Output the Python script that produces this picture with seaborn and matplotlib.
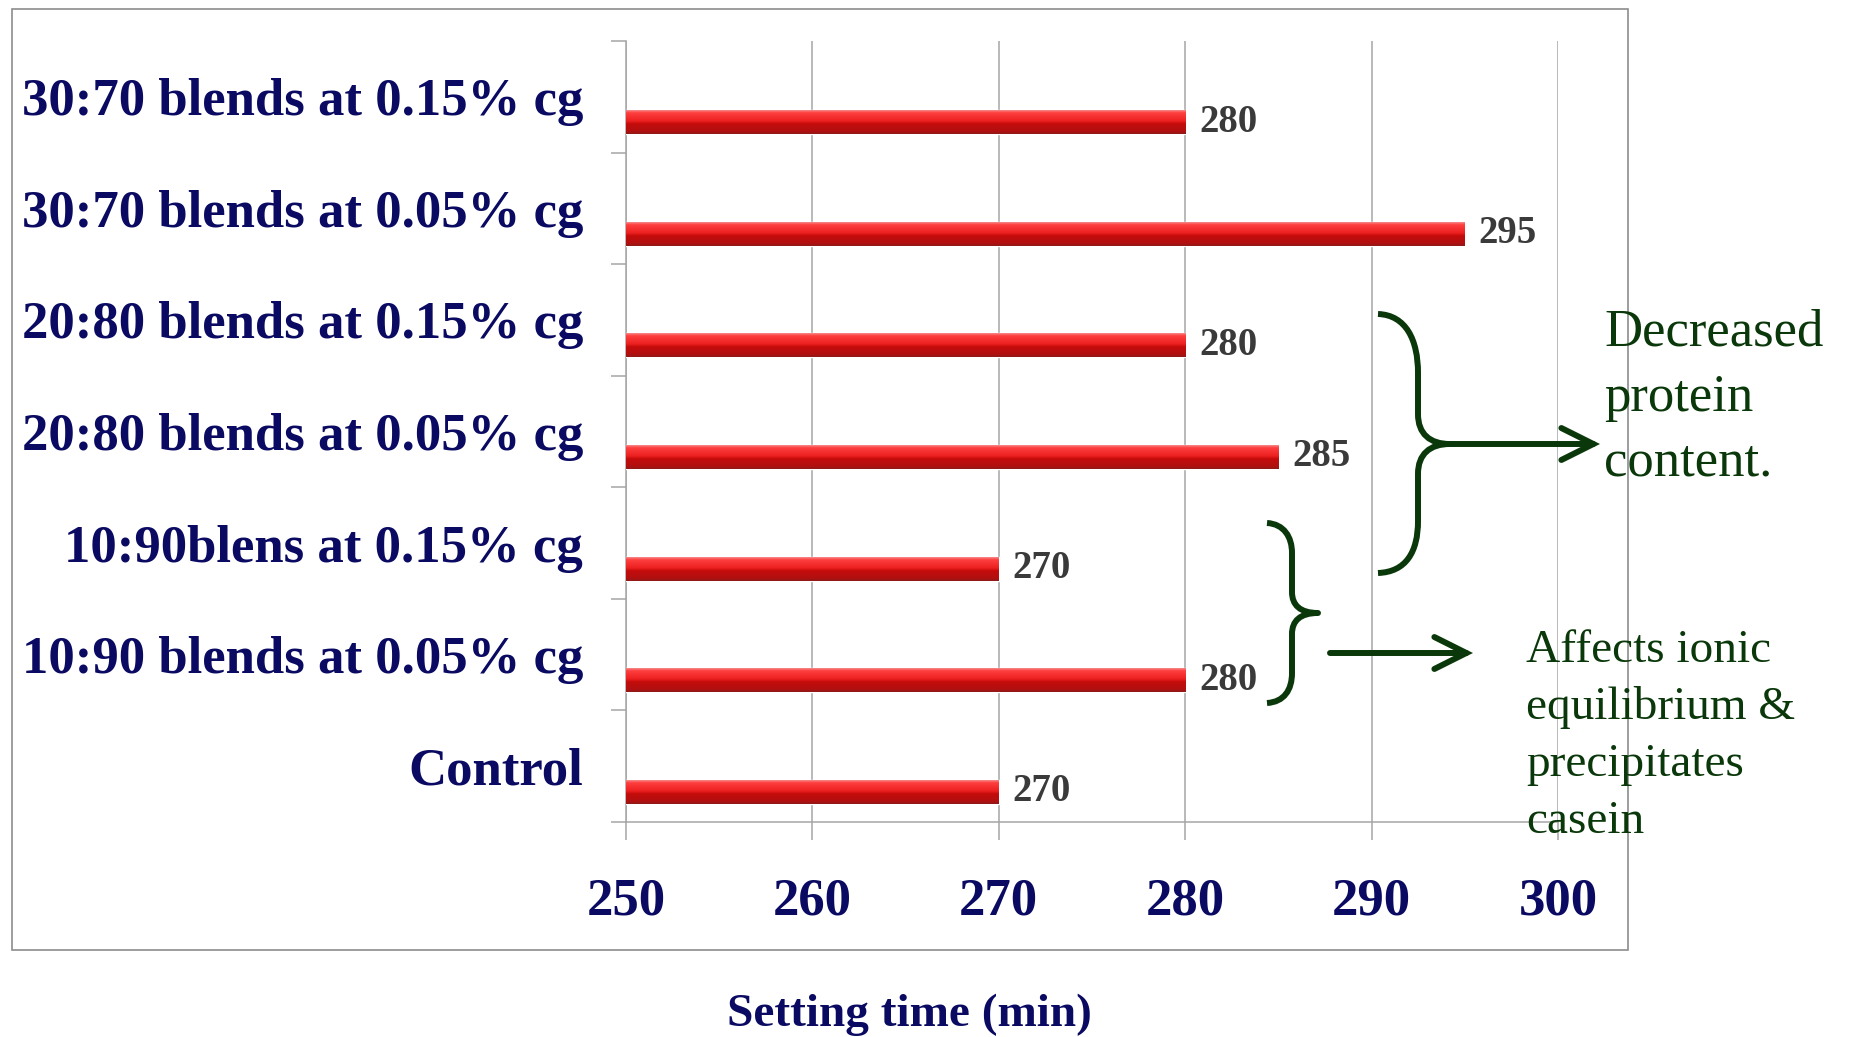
import numpy as np
import pandas as pd
import matplotlib
matplotlib.use("Agg")
import matplotlib.pyplot as plt
import seaborn as sns
from matplotlib.path import Path
from matplotlib.patches import PathPatch, Rectangle, FancyArrowPatch, ArrowStyle
from matplotlib.ticker import FixedLocator, NullFormatter, FixedFormatter
from matplotlib.colors import LinearSegmentedColormap

# ---------------- data ----------------
categories = [
    "30:70 blends at 0.15% cg",
    "30:70 blends at 0.05% cg",
    "20:80 blends at 0.15% cg",
    "20:80 blends at 0.05% cg",
    "10:90blens at 0.15% cg",
    "10:90 blends at 0.05% cg",
    "Control",
]
setting_time = [280, 295, 280, 285, 270, 280, 270]
x_ticks = [250, 260, 270, 280, 290, 300]
x_label = "Setting time (min)"
note_protein = ["Decreased", "protein", "content."]
note_ionic = ["Affects ionic", "equilibrium &", "precipitates", "casein"]

# ---------------- style ----------------
sns.set_style("white")
plt.rcParams["font.family"] = ["Liberation Serif", "DejaVu Serif"]

NAVY = "#0a0a62"
GREEN = "#0a380a"
GRID = "#a6a6a6"

W, H = 1850, 1037
fig = plt.figure(figsize=(W / 100, H / 100), dpi=100)


def fx(px):
    return px / W


def fy(py):
    return 1 - py / H


ax = fig.add_axes([fx(626), fy(822), fx(1558) - fx(626), fy(41) - fy(822)])

df = pd.DataFrame({"category": categories, "time": setting_time})
sns.barplot(data=df, x="time", y="category", orient="h", width=0.215,
            color="#d01515", saturation=1, ax=ax, zorder=3)

# category slots: labels centred in slot, bars sit lower in slot
OFF = 0.228
n = len(categories)
ax.set_ylim(n - 1 - OFF + 0.5, -OFF - 0.5)
bounds = [i - OFF - 0.5 for i in range(n + 1)]
centers = [i - OFF for i in range(n)]
ax.yaxis.set_major_locator(FixedLocator(bounds))
ax.yaxis.set_major_formatter(NullFormatter())
ax.yaxis.set_minor_locator(FixedLocator(centers))
ax.yaxis.set_minor_formatter(FixedFormatter(categories))
ax.tick_params(axis="y", which="major", left=True, length=11, width=1.1,
               color=GRID, direction="out")
ax.tick_params(axis="y", which="minor", left=True, length=0, pad=31,
               labelsize=38, labelcolor=NAVY)
for lbl in ax.get_yticklabels(minor=True):
    lbl.set_fontweight("bold")
ax.set_ylabel("")

ax.set_xlim(x_ticks[0], x_ticks[-1])
ax.set_xticks(x_ticks)
ax.tick_params(axis="x", bottom=True, length=13, width=1.1, color=GRID, direction="out",
               pad=27, labelsize=38, labelcolor=NAVY)
for lbl in ax.get_xticklabels():
    lbl.set_fontweight("bold")

ax.xaxis.grid(True, color=GRID, lw=1.1)
ax.yaxis.grid(False)
ax.set_axisbelow(True)
for s in ["top", "right"]:
    ax.spines[s].set_visible(False)
for s in ["left", "bottom"]:
    ax.spines[s].set_color(GRID)
    ax.spines[s].set_linewidth(1.1)

# glossy gradient on bars
cmap = LinearSegmentedColormap.from_list(
    "bar", [(0, "#f58a8a"), (0.1, "#ff4040"), (0.45, "#ec2020"),
            (0.58, "#c40b0b"), (0.9, "#b01010"), (1, "#8e1a1a")])
grad = np.linspace(0, 1, 64).reshape(-1, 1)
bars = list(ax.containers[0])
for p in bars:
    p.set_clip_box(ax.bbox)
    x0, y0 = p.get_x(), p.get_y()
    w, h = p.get_width(), p.get_height()
    im = ax.imshow(grad, cmap=cmap, aspect="auto", origin="upper",
                   extent=(x0, x0 + w, y0 + h, y0), zorder=4, interpolation="bilinear")
    im.set_clip_path(p)
    im.set_clip_box(ax.bbox)
ax.set_xlim(x_ticks[0], x_ticks[-1])
ax.set_ylim(n - 1 - OFF + 0.5, -OFF - 0.5)

ax.bar_label(ax.containers[0], padding=10, fontsize=28, fontweight="bold", color="#3a3a3a")

# x label
ax.set_xlabel(x_label, fontsize=34, fontweight="bold", color=NAVY)
ax.xaxis.set_label_coords(fx(909), fy(1026), transform=fig.transFigure)
ax.xaxis.label.set_va("baseline")

# outer frame
fig.add_artist(Rectangle((fx(12), fy(950)), fx(1628) - fx(12), fy(9) - fy(950),
                         transform=fig.transFigure, fill=False, edgecolor="#8c8c8c", lw=1.2))


# braces
def brace_path(pts):
    verts = [(fx(x), fy(y)) for x, y in pts]
    codes = [Path.MOVETO] + [Path.CURVE4] * 3 + [Path.LINETO] + [Path.CURVE4] * 6 + \
            [Path.LINETO] + [Path.CURVE4] * 3
    return Path(verts, codes)


big = [(1378, 314), (1406, 315), (1418, 340), (1418, 373), (1418, 414),
       (1418, 434), (1430, 444), (1450, 444),
       (1430, 444), (1418, 454), (1418, 474), (1418, 521),
       (1418, 552), (1406, 572), (1378, 573)]
small = [(1267, 523), (1284, 524), (1292, 537), (1292, 553), (1292, 592),
         (1292, 605), (1300, 613), (1318, 613),
         (1300, 613), (1292, 621), (1292, 634), (1292, 673),
         (1292, 690), (1284, 702), (1267, 703)]
for pts in (big, small):
    fig.add_artist(PathPatch(brace_path(pts), transform=fig.transFigure, fill=False,
                             edgecolor=GREEN, lw=4.3, capstyle="butt", joinstyle="round"))

for (a, b) in [((1450, 444), (1600, 444)), ((1330, 653), (1473, 653))]:
    fig.add_artist(FancyArrowPatch((fx(a[0]), fy(a[1])), (fx(b[0]), fy(b[1])),
                                   transform=fig.transFigure,
                                   arrowstyle=ArrowStyle("->", head_length=23, head_width=11.5),
                                   mutation_scale=1, lw=4.3, color=GREEN,
                                   shrinkA=0, shrinkB=0, capstyle="round", joinstyle="miter"))

for i, line in enumerate(note_protein):
    fig.text(fx(1604), fy(346 + i * 64.5), line, fontsize=38, color=GREEN, va="baseline", ha="left")
for i, line in enumerate(note_ionic):
    fig.text(fx(1526), fy(662 + i * 57), line, fontsize=34, color=GREEN, va="baseline", ha="left")

fig.savefig("out.png", dpi=100)
